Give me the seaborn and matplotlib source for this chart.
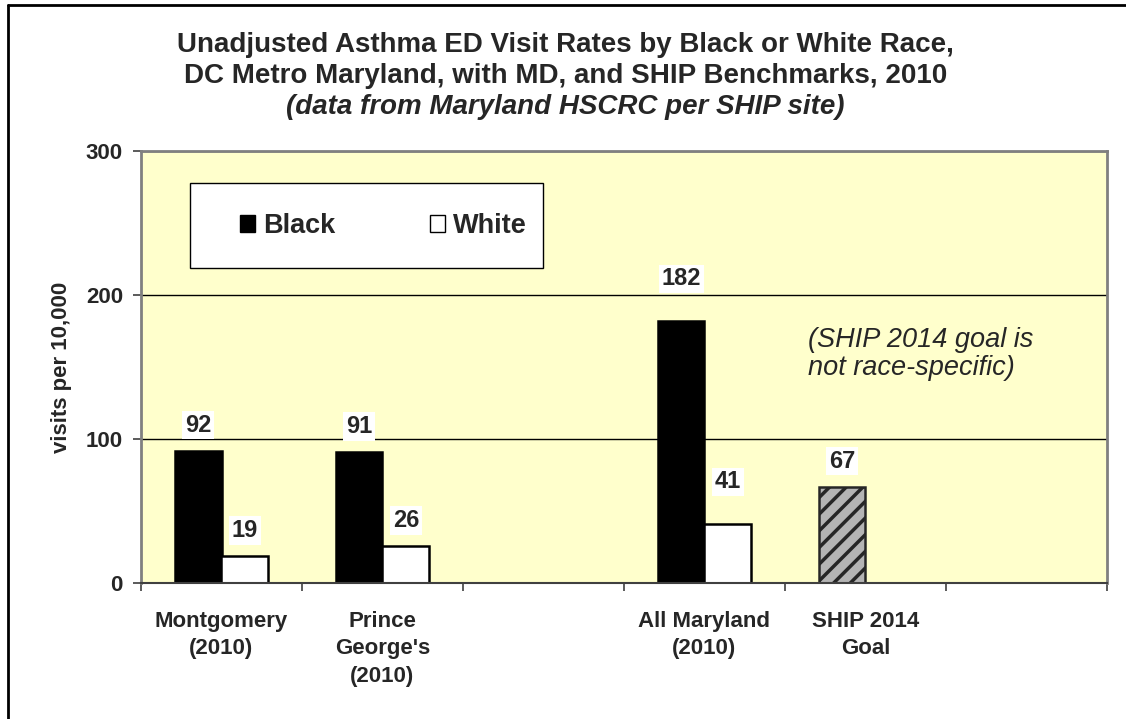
import matplotlib
matplotlib.use("Agg")
import matplotlib.pyplot as plt
from matplotlib.lines import Line2D
from matplotlib.patches import Patch, Rectangle
import pandas as pd
import seaborn as sns

# chart values
categories = ["Montgomery\n(2010)", "Prince\nGeorge's\n(2010)", "",
              "All Maryland\n(2010)", "SHIP 2014\nGoal", " "]
areas = ["Montgomery\n(2010)", "Montgomery\n(2010)",
         "Prince\nGeorge's\n(2010)", "Prince\nGeorge's\n(2010)",
         "All Maryland\n(2010)", "All Maryland\n(2010)",
         "SHIP 2014\nGoal"]
races = ["Black", "White", "Black", "White", "Black", "White", "Black"]
rates = [92, 19, 91, 26, 182, 41, 67]
goal_value = 67
title_lines = ["Unadjusted Asthma ED Visit Rates by Black or White Race,",
               "DC Metro Maryland, with MD, and SHIP Benchmarks, 2010",
               "(data from Maryland HSCRC per SHIP site)"]
note = "(SHIP 2014 goal is\nnot race-specific)"

df = pd.DataFrame({"area": areas, "race": races, "rate": rates})

sns.set_style("white")
plt.rcParams["font.family"] = ["Liberation Sans", "DejaVu Sans"]
plt.rcParams["hatch.linewidth"] = 2.5

fig = plt.figure(figsize=(11.26, 7.19), dpi=100)
ax = fig.add_axes([141 / 1126, 1 - 583 / 719, 966 / 1126, 432 / 719])
ax.set_facecolor("#FFFFCC")

sns.barplot(data=df, x="area", y="rate", hue="race", order=categories,
            hue_order=["Black", "White"],
            palette={"Black": "black", "White": "white"},
            width=0.58, edgecolor="black", linewidth=1.8,
            legend=False, ax=ax)

# the goal bar is hatched grey
for bar in ax.containers[0]:
    if bar.get_height() == goal_value:
        bar.set_facecolor("#B4B4B4")
        bar.set_edgecolor("#262626")
        bar.set_hatch("//")

# Excel nudged a couple of labels higher (gridline clash)
for cont in ax.containers:
    for bar in cont:
        h = bar.get_height()
        pad = 22 if h in (182, 41) else 10
        ax.annotate(f"{h:.0f}", (bar.get_x() + bar.get_width() / 2, h),
                    xytext=(0, pad), textcoords="offset points",
                    ha="center", va="bottom", fontsize=17, fontweight="bold",
                    bbox=dict(facecolor="white", edgecolor="none", pad=2))

ax.set_ylim(0, 300)
ax.set_xlim(-0.5, len(categories) - 0.5)
ax.set_yticks([0, 100, 200, 300])
ax.yaxis.grid(True, color="black", linewidth=1)
ax.set_axisbelow(True)
for side in ["top", "right", "left"]:
    ax.spines[side].set_color("#808080")
    ax.spines[side].set_linewidth(2)
ax.spines["bottom"].set_color("#404040")
ax.spines["bottom"].set_linewidth(1.5)

ax.set_xticks(range(len(categories)))
ax.set_xticks([i - 0.5 for i in range(len(categories) + 1)], minor=True)
ax.tick_params(axis="x", which="major", length=0, pad=20, labelsize=16)
ax.tick_params(axis="x", which="minor", length=6, width=1.2, color="#404040",
               direction="out", bottom=True)
ax.tick_params(axis="y", length=6, width=1.2, color="#404040", pad=7,
               labelsize=16, left=True)
for lab in ax.get_xticklabels():
    lab.set_fontweight("bold")
    lab.set_linespacing(1.4)
for lab in ax.get_yticklabels():
    lab.set_fontweight("bold")
ax.set_xlabel("")
ax.set_ylabel("visits per 10,000", fontsize=16, fontweight="bold", labelpad=10)

ax.text(3.64, 159, note, fontsize=19.5, style="italic", ha="left", va="center",
        linespacing=1.1)

# legend box drawn by hand (Excel pads it unevenly)
ax.add_patch(Rectangle((49 / 966, 315 / 432), 353 / 966, 85 / 432,
                       transform=ax.transAxes, facecolor="white",
                       edgecolor="black", linewidth=1, zorder=4))
handles = [Patch(facecolor="black", edgecolor="black", label="Black"),
           Patch(facecolor="white", edgecolor="black", label="White")]
leg = ax.legend(handles=handles, ncol=2, loc="center left",
                bbox_to_anchor=(99 / 966, 357 / 432), borderaxespad=0,
                prop={"size": 19.5, "weight": "bold"}, frameon=False,
                handlelength=0.55, handleheight=0.55, handletextpad=0.3,
                columnspacing=3.5, borderpad=0)
leg.set_zorder(5)

fig.text(0.502, 1 - 45 / 719, title_lines[0], ha="center", va="center",
         fontsize=20, fontweight="bold")
fig.text(0.502, 1 - 76 / 719, title_lines[1], ha="center", va="center",
         fontsize=20, fontweight="bold")
fig.text(0.502, 1 - 107 / 719, title_lines[2], ha="center", va="center",
         fontsize=20, fontweight="bold", style="italic")

fig.add_artist(Line2D([8 / 1126, 1], [1 - 5 / 719, 1 - 5 / 719],
                      color="black", linewidth=2))
fig.add_artist(Line2D([8 / 1126, 8 / 1126], [0, 1 - 5 / 719],
                      color="black", linewidth=2))

fig.savefig("out.png", dpi=100)
